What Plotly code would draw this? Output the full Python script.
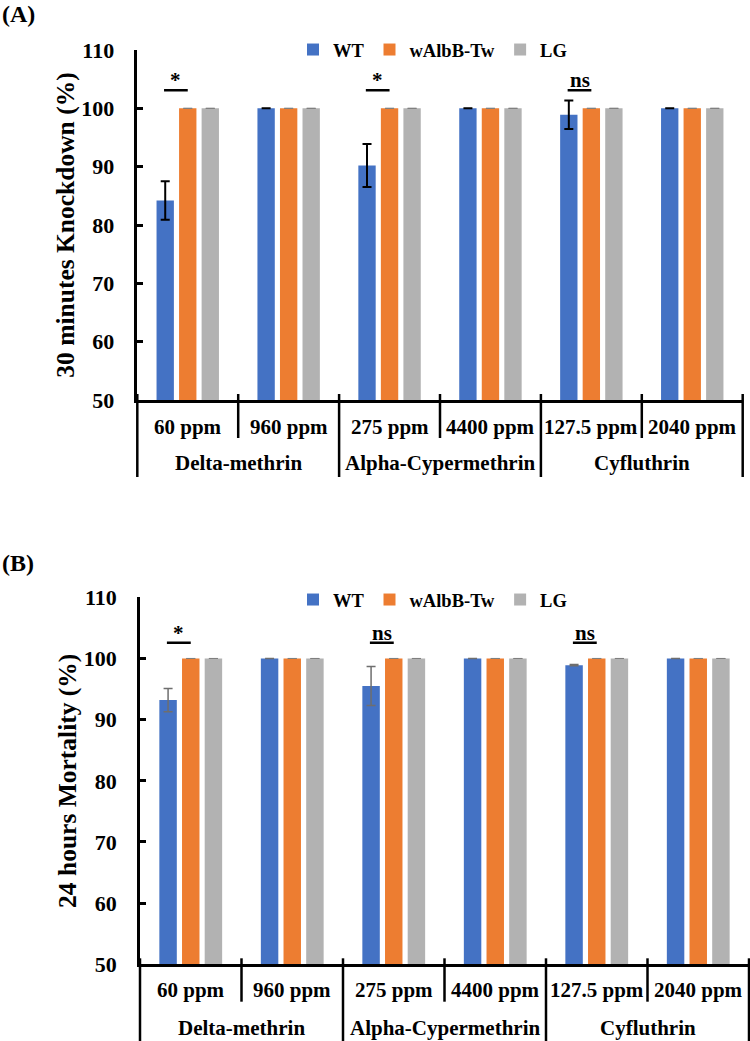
import plotly.graph_objects as go

# ---------------- data ----------------
doses = ["60 ppm", "960 ppm", "275 ppm", "4400 ppm", "127.5 ppm", "2040 ppm"]
insecticides = ["Delta-methrin", "Alpha-Cypermethrin", "Cyfluthrin"]
doses_per_insecticide = [2, 2, 2]
series = ["WT", "wAlbB-Tw", "LG"]
colors = ["#4472C4", "#ED7D31", "#B2B2B2"]

# (A) 30 minutes knockdown (%)
knock_wt = [84.2, 100, 90.2, 100, 98.9, 100]
knock_walbb = [100, 100, 100, 100, 100, 100]
knock_lg = [100, 100, 100, 100, 100, 100]
knock_wt_err = [3.3, 0, 3.7, 0, 2.45, 0]
knock_walbb_err = [0, 0, 0, 0, 0, 0]
knock_lg_err = [0, 0, 0, 0, 0, 0]
knock_sig = ["*", "", "*", "", "ns", ""]

# (B) 24 hours mortality (%)
mort_wt = [93.2, 100, 95.5, 100, 98.9, 100]
mort_walbb = [100, 100, 100, 100, 100, 100]
mort_lg = [100, 100, 100, 100, 100, 100]
mort_wt_err = [1.9, 0, 3.2, 0, 0.1, 0]
mort_walbb_err = [0, 0, 0, 0, 0, 0]
mort_lg_err = [0, 0, 0, 0, 0, 0]
mort_sig = ["*", "", "ns", "", "ns", ""]

# ---------------- style ----------------
FONT = "Liberation Serif, Times New Roman, serif"
W, H = 750, 1041


def py(p):
    """pixel row -> paper y"""
    return 1 - p / H


panels = [
    dict(ax="", label="(A)", label_y=14, title="30 minutes Knockdown (%)",
         vals=[knock_wt, knock_walbb, knock_lg],
         errs=[knock_wt_err, knock_walbb_err, knock_lg_err],
         errcol=["black", "#7F7F7F", "#7F7F7F"], errthick=[2, 1, 1],
         sig=knock_sig, sig_y=103.1,
         xdom=[137.3 / W, 742.7 / W], ydom=[py(400), py(50)],
         axis_px=400, short_end=438, long_end=477, dose_y=427, group_y=463,
         legend="legend", leg_y=50),
    dict(ax="2", label="(B)", label_y=563, title="24 hours Mortality (%)",
         vals=[mort_wt, mort_walbb, mort_lg],
         errs=[mort_wt_err, mort_walbb_err, mort_lg_err],
         errcol=["#6E6E6E", "#7F7F7F", "#7F7F7F"], errthick=[1.5, 1, 1],
         sig=mort_sig, sig_y=102.55,
         xdom=[140 / W, 749 / W], ydom=[py(964.3), py(597.3)],
         axis_px=964.3, short_end=1001.7, long_end=1045, dose_y=990, group_y=1028,
         legend="legend2", leg_y=600),
]

fig = go.Figure()
shapes = []
annotations = []

for p in panels:
    xa, ya = "x" + p["ax"], "y" + p["ax"]
    for k, name in enumerate(series):
        fig.add_trace(go.Bar(
            x=doses, y=p["vals"][k], name=name, xaxis=xa, yaxis=ya,
            marker=dict(color=colors[k], line=dict(width=0)),
            error_y=dict(type="data", array=p["errs"][k], visible=True,
                         color=p["errcol"][k], thickness=p["errthick"][k], width=4.5),
            legend=p["legend"], showlegend=True,
        ))

    # significance marks (line between WT and wAlbB-Tw bars, text above)
    for i, s in enumerate(p["sig"]):
        if not s:
            continue
        shapes.append(dict(type="line", xref=xa, yref=ya, x0=i - 0.235, x1=i + 0.0,
                           y0=p["sig_y"], y1=p["sig_y"], line=dict(color="black", width=2.5)))
        annotations.append(dict(xref=xa, yref=ya, x=i - 0.117, y=p["sig_y"], text=s,
                                showarrow=False, yanchor="bottom", yshift=-4,
                                font=dict(family=FONT, size=21, color="black", weight="bold")))

    # category separators (paper x computed from category boundaries, so they are not clipped)
    n = len(doses)
    d0, d1 = p["xdom"]
    group_bounds = [0]
    acc = 0
    for c in doses_per_insecticide:
        acc += c
        group_bounds.append(acc)
    for j in range(n + 1):
        is_long = j in group_bounds
        y1 = p["long_end"] if is_long else p["short_end"]
        xp = d0 + (d1 - d0) * j / n
        shapes.append(dict(type="line", xref="paper", yref="paper", x0=xp, x1=xp,
                           y0=py(p["axis_px"] - 6), y1=py(y1),
                           line=dict(color="black", width=2.5)))

    # dose labels
    for i, d in enumerate(doses):
        annotations.append(dict(xref=xa, yref="paper", x=i, y=py(p["dose_y"]), text=d,
                                showarrow=False, yanchor="middle",
                                font=dict(family=FONT, size=21, color="black", weight="bold")))
    # insecticide labels
    start = 0
    for name, c in zip(insecticides, doses_per_insecticide):
        annotations.append(dict(xref=xa, yref="paper", x=start + (c - 1) / 2, y=py(p["group_y"]),
                                text=name, showarrow=False, yanchor="middle",
                                font=dict(family=FONT, size=21, color="black", weight="bold")))
        start += c

    # panel letter
    annotations.append(dict(xref="paper", yref="paper", x=0, y=py(p["label_y"]), text=p["label"],
                            showarrow=False, xanchor="left", yanchor="middle",
                            font=dict(family=FONT, size=24, color="black", weight="bold")))

    fig.update_layout(**{
        "xaxis" + p["ax"]: dict(domain=p["xdom"], anchor=ya, type="category",
                                range=[-0.5, n - 0.5], showticklabels=False, ticks="",
                                showline=True, linecolor="black", linewidth=2.5,
                                showgrid=False, zeroline=False, automargin=False),
        "yaxis" + p["ax"]: dict(domain=p["ydom"], anchor=xa, range=[50, 110], dtick=10,
                                ticks="inside", ticklen=6, tickwidth=2.5, tickcolor="black",
                                showline=True, linecolor="black", linewidth=2.5,
                                showgrid=False, zeroline=False, ticklabelstandoff=16,
                                automargin=False,
                                tickfont=dict(family=FONT, size=22, color="black", weight="bold"),
                                title=dict(text=p["title"], standoff=0,
                                           font=dict(family=FONT, size=25.5, color="black",
                                                     weight="bold"))),
        p["legend"]: dict(orientation="h", x=293 / W, xanchor="left", y=py(p["leg_y"]),
                          yanchor="middle", bgcolor="rgba(0,0,0,0)", tracegroupgap=0,
                          font=dict(family=FONT, size=18.5, color="black", weight="bold")),
    })

fig.update_layout(
    width=W, height=H, margin=dict(l=0, r=0, t=0, b=0, autoexpand=False),
    paper_bgcolor="white", plot_bgcolor="white",
    barmode="group", bargap=0.33, bargroupgap=0.23,
    shapes=shapes, annotations=annotations,
)

fig.write_html("out.html", config={"displayModeBar": False},
               post_script="document.body.style.margin='0';document.body.style.overflow='hidden';")
